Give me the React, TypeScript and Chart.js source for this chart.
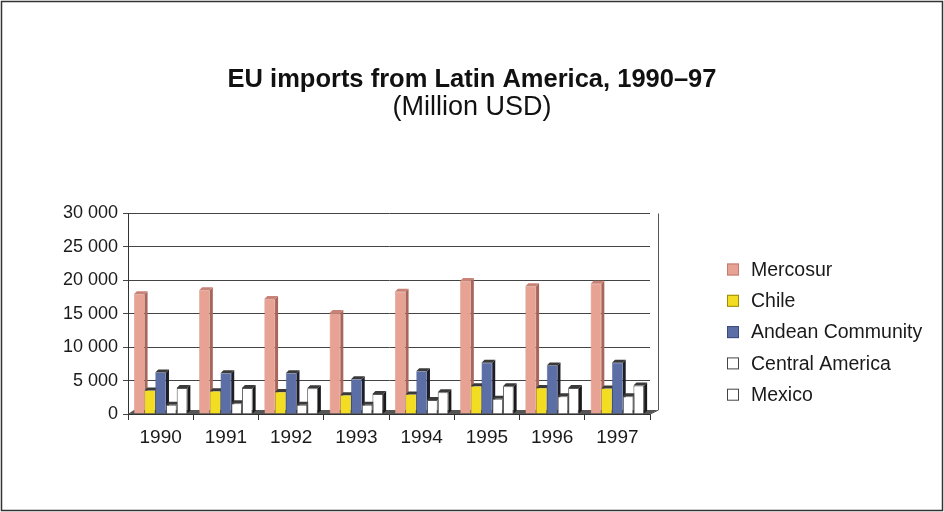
import React, { useEffect, useRef } from "react";
import { Chart, registerables } from "chart.js";

Chart.register(...registerables);

const categories = ["1990", "1991", "1992", "1993", "1994", "1995", "1996", "1997"];
const seriesNames = ["Mercosur", "Chile", "Andean Community", "Central America", "Mexico"];
const mercosur = [17900, 18500, 17200, 15100, 18300, 19900, 19100, 19500];
const chile = [3500, 3400, 3300, 2800, 2900, 4150, 3900, 3800];
const andean = [6200, 6100, 6100, 5200, 6400, 7650, 7250, 7650];
const centralAmerica = [1400, 1600, 1400, 1400, 2100, 2300, 2650, 2650];
const mexico = [3900, 3900, 3850, 3000, 3250, 4150, 3900, 4250];
const yTicks = [0, 5000, 10000, 15000, 20000, 25000, 30000];

const FONT = "'Liberation Sans', Arial, sans-serif";
const fills = ["#E8A294", "#F3DD22", "#5B6EA6", "#FFFFFF", "#FFFFFF"];
const sides = ["#A8665B", "#222222", "#1E1E2A", "#1A1A1A", "#1A1A1A"];
const borders = ["#C07C70", "#9A8A10", "#3A4A7A", "#555555", "#555555"];

const fmt = (v: number) => String(v).replace(/\B(?=(\d{3})+(?!\d))/g, " ");

const depthPlugin = {
  id: "depth3d",
  beforeDatasetsDraw(chart: any) {
    const ctx = chart.ctx;
    const d = 3;
    const area = chart.chartArea;
    ctx.save();
    // floor strip
    ctx.fillStyle = "#555555";
    ctx.beginPath();
    ctx.moveTo(area.left, area.bottom);
    ctx.lineTo(area.left + 6, area.bottom - 4);
    ctx.lineTo(area.right + 8, area.bottom - 4);
    ctx.lineTo(area.right, area.bottom);
    ctx.closePath();
    ctx.fill();
    chart.data.datasets.forEach((ds: any, i: number) => {
      const meta = chart.getDatasetMeta(i);
      meta.data.forEach((bar: any) => {
        const { x, y, base, width } = bar.getProps(["x", "y", "base", "width"], true);
        const l = x - width / 2;
        const r = x + width / 2;
        ctx.fillStyle = sides[i];
        ctx.beginPath();
        ctx.moveTo(r, y);
        ctx.lineTo(r + d, y - d);
        ctx.lineTo(r + d, base - d);
        ctx.lineTo(r, base);
        ctx.closePath();
        ctx.fill();
        ctx.fillStyle = i === 0 ? "#C98276" : "#3A3A3A";
        ctx.beginPath();
        ctx.moveTo(l, y);
        ctx.lineTo(l + d, y - d);
        ctx.lineTo(r + d, y - d);
        ctx.lineTo(r, y);
        ctx.closePath();
        ctx.fill();
      });
    });
    ctx.restore();
  },
  afterDraw(chart: any) {
    const ctx = chart.ctx;
    const area = chart.chartArea;
    ctx.save();
    // right wall line
    ctx.strokeStyle = "#555555";
    ctx.lineWidth = 1;
    ctx.beginPath();
    ctx.moveTo(area.right + 8.5, area.top);
    ctx.lineTo(area.right + 8.5, area.bottom - 4);
    ctx.lineTo(area.right + 0.5, area.bottom);
    ctx.stroke();
    // legend
    ctx.font = `19.5px ${FONT}`;
    ctx.textBaseline = "middle";
    ctx.textAlign = "left";
    seriesNames.forEach((name, i) => {
      const cy = 269.5 + i * 31.3;
      ctx.fillStyle = fills[i];
      ctx.fillRect(727, cy - 6, 12, 12);
      ctx.strokeStyle = i >= 3 ? "#444444" : borders[i];
      ctx.strokeRect(727.5, cy - 5.5, 11, 11);
      ctx.fillStyle = "#1a1a1a";
      ctx.fillText(name, 751, cy + 1);
    });
    // outer frame
    ctx.strokeStyle = "#333333";
    ctx.lineWidth = 1.5;
    ctx.strokeRect(1.5, 1.5, chart.width - 3, chart.height - 3);
    ctx.restore();
  },
};

export default function App() {
  const ref = useRef<HTMLCanvasElement>(null);
  useEffect(() => {
    const data = [mercosur, chile, andean, centralAmerica, mexico];
    const chart = new Chart(ref.current!, {
      type: "bar",
      data: {
        labels: categories,
        datasets: seriesNames.map((name, i) => ({
          label: name,
          data: data[i],
          backgroundColor: fills[i],
          borderColor: borders[i],
          borderWidth: i >= 3 ? 1 : 0.5,
          categoryPercentage: 0.82,
          barPercentage: 1.0,
        })),
      },
      options: {
        responsive: false,
        animation: false,
        devicePixelRatio: 1,
        layout: { padding: { left: 0, right: 0, top: 0, bottom: 0 } },
        plugins: {
          legend: { display: false },
          tooltip: { enabled: false },
          title: {
            display: true,
            text: "EU imports from Latin America, 1990–97",
            color: "#111111",
            font: { family: FONT, size: 25.5, weight: "bold", lineHeight: 1 },
            padding: { top: 67, bottom: 2 },
          },
          subtitle: {
            display: true,
            text: "(Million USD)",
            color: "#111111",
            font: { family: FONT, size: 27, lineHeight: 1 },
            padding: { top: 0, bottom: 92 },
          },
        },
        scales: {
          x: {
            afterFit: (s: any) => {
              s.height = 98;
            },
            grid: { drawOnChartArea: false, drawTicks: true, tickLength: 6, color: "#333333", offset: true },
            border: { color: "#333333" },
            ticks: { color: "#1a1a1a", font: { family: FONT, size: 19 }, padding: 6, maxRotation: 0 },
          },
          y: {
            min: 0,
            max: 30000,
            afterFit: (s: any) => {
              s.width = 128;
            },
            afterBuildTicks: (s: any) => {
              s.ticks = yTicks.map((v) => ({ value: v }));
            },
            grid: { color: "#444444", tickLength: 5, lineWidth: 1 },
            border: { color: "#333333" },
            ticks: {
              color: "#1a1a1a",
              font: { family: FONT, size: 18 },
              padding: 5,
              callback: (v: any) => fmt(Number(v)),
            },
          },
          yRight: {
            position: "right",
            min: 0,
            max: 30000,
            afterFit: (s: any) => {
              s.width = 294;
            },
            grid: { display: false, drawOnChartArea: false },
            border: { display: false },
            ticks: { display: false },
          },
        },
      },
      plugins: [depthPlugin],
    });
    return () => chart.destroy();
  }, []);
  return (
    <div style={{ position: "fixed", left: 0, top: 0, width: 944, height: 512, background: "#ffffff" }}>
      <canvas ref={ref} width={944} height={512} />
    </div>
  );
}
